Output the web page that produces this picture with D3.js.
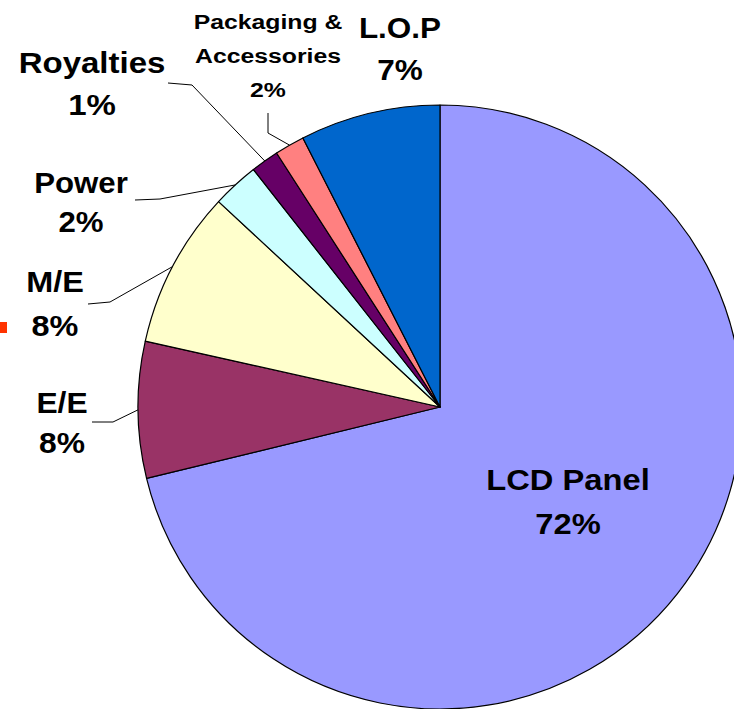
<!DOCTYPE html>
<html><head><meta charset="utf-8">
<script src="https://cdn.jsdelivr.net/npm/d3@7"></script>
<style>
html,body{margin:0;padding:0;background:#fff;}
svg{display:block;}
text{font-family:"Liberation Sans",Arial,sans-serif;font-weight:bold;fill:#000;}
</style></head>
<body>
<svg id="chart" width="734" height="709"></svg>
<script>
// ---- data ----
const categories = ["LCD Panel", "E/E", "M/E", "Power", "Royalties", "Packaging & Accessories", "L.O.P"];
const values = [71.2, 7.3, 8.4, 2.5, 1.5, 1.6, 7.5];
const percentLabels = ["72%", "8%", "8%", "2%", "1%", "2%", "7%"];
const colors = ["#9999FF", "#993366", "#FFFFCC", "#CCFFFF", "#660066", "#FF8080", "#0066CC"];

// ---- layout (label positions, separate from data) ----
const layout = [
  {lines:["LCD Panel"], x:568, y:490, size:30, gap:44, sx:1.09, leader:null},
  {lines:["E/E"], x:62, y:413, size:30, gap:40, sx:1.06, leader:[[92,422],[113,422]]},
  {lines:["M/E"], x:55, y:292, size:30, gap:44, sx:1.08, leader:[[88,304],[110,302]]},
  {lines:["Power"], x:81, y:193, size:30, gap:39, sx:1.04, leader:[[135,200],[160,199]]},
  {lines:["Royalties"], x:92, y:73, size:30, gap:42, sx:1.1, leader:[[168,83],[192,85]]},
  {lines:["Packaging &","Accessories"], x:268, y:29, size:21, gap:34, sx:1.18, leader:[[268,113],[268,133]]},
  {lines:["L.O.P"], x:400, y:38, size:30, gap:42, sx:1.05, leader:null}
];

const cx = 440, cy = 407, R = 302;
const svg = d3.select("#chart");

const pie = d3.pie().sort(null).value(d => d)(values);
const arc = d3.arc().innerRadius(0).outerRadius(R);

const g = svg.append("g").attr("transform", `translate(${cx},${cy})`);
g.selectAll("path.slice").data(pie).enter().append("path")
  .attr("class","slice")
  .attr("d", arc)
  .attr("fill", (d,i) => colors[i])
  .attr("stroke", "#000")
  .attr("stroke-width", 1.2)
  .attr("stroke-linejoin","round");

// leader lines
pie.forEach((d,i) => {
  const L = layout[i];
  if (!L.leader) return;
  const a = (d.startAngle + d.endAngle)/2;
  const ex = cx + Math.sin(a)*R, ey = cy - Math.cos(a)*R;
  const pts = L.leader.concat([[ex,ey]]);
  svg.append("path")
    .attr("d", d3.line()(pts))
    .attr("fill","none").attr("stroke","#000").attr("stroke-width",1);
});

// labels
pie.forEach((d,i) => {
  const L = layout[i];
  const lines = L.lines.concat([percentLabels[i]]);
  lines.forEach((t,k) => {
    svg.append("text")
      .attr("transform", `translate(${L.x},${L.y + k*L.gap}) scale(${L.sx},1)`)
      .attr("text-anchor","middle")
      .style("font-size", L.size + "px")
      .text(t);
  });
});

// small orange-red marker at left edge
svg.append("rect").attr("x",0).attr("y",322).attr("width",7).attr("height",11).attr("fill","#FF3300");
</script>
</body></html>
